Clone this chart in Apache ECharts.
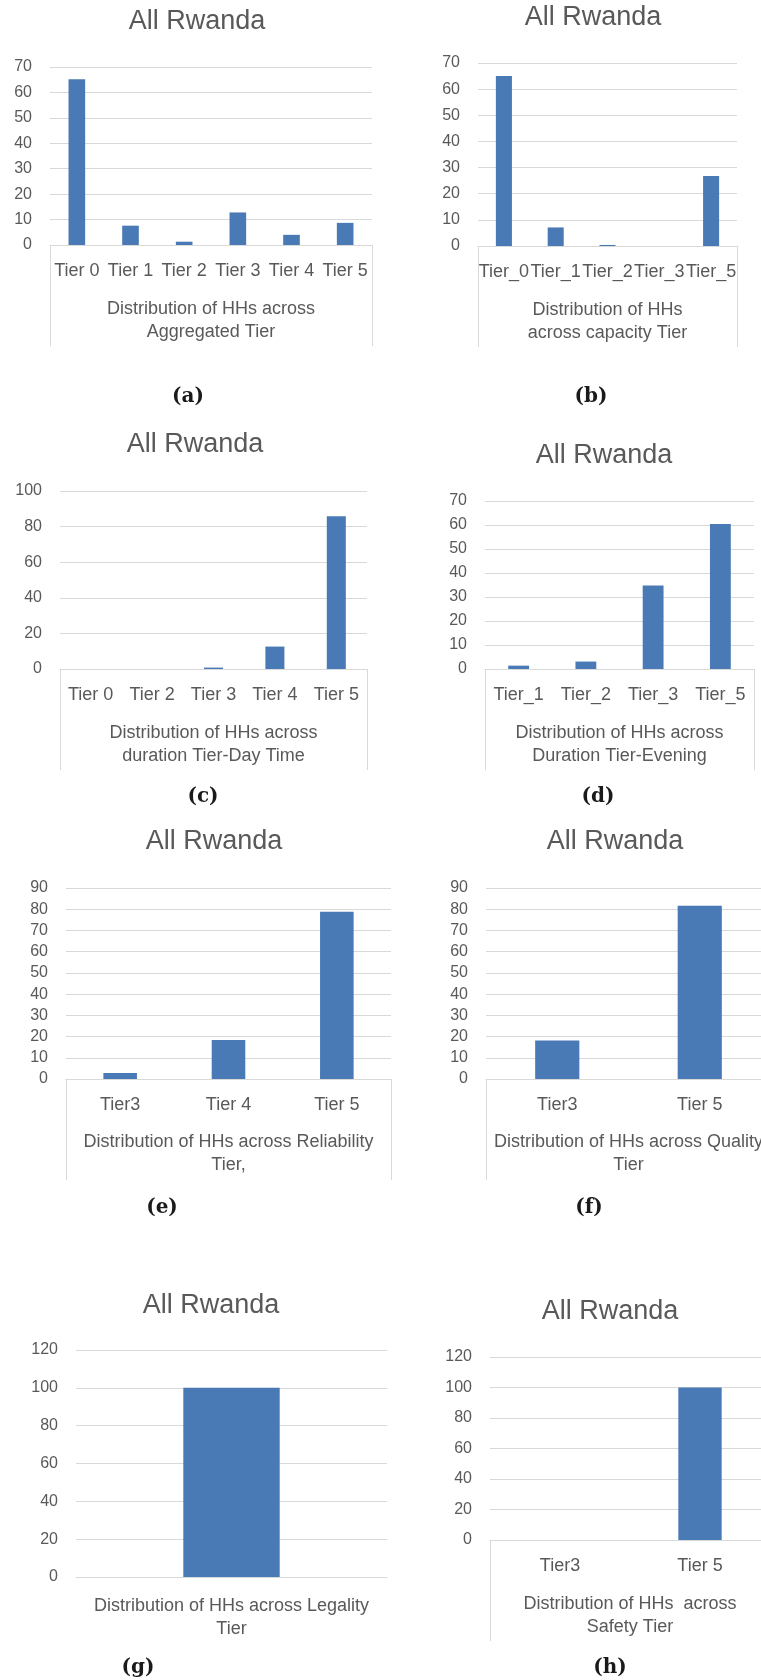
<!DOCTYPE html>
<html>
<head>
<meta charset="utf-8">
<script src="https://cdn.jsdelivr.net/npm/echarts@6/dist/echarts.min.js"></script>
<style>
    html, body { margin: 0; padding: 0; background: #fff; }
    #chart { width: 761px; height: 1680px; }
</style>
</head>
<body>
<div id="chart"></div>
<script>
// Values (% of households per tier)
const aggregatedTiers = ['Tier 0', 'Tier 1', 'Tier 2', 'Tier 3', 'Tier 4', 'Tier 5'];
const aggregatedShare = [65.2, 7.6, 1.3, 12.8, 4.0, 8.7];

const capacityTiers = ['Tier_0', 'Tier_1', 'Tier_2', 'Tier_3', 'Tier_5'];
const capacityShare = [65.0, 7.1, 0.4, 0, 26.8];

const dayTimeTiers = ['Tier 0', 'Tier 2', 'Tier 3', 'Tier 4', 'Tier 5'];
const dayTimeShare = [0, 0, 0.8, 12.6, 85.8];

const eveningTiers = ['Tier_1', 'Tier_2', 'Tier_3', 'Tier_5'];
const eveningShare = [1.4, 3.1, 34.8, 60.4];

const reliabilityTiers = ['Tier3', 'Tier 4', 'Tier 5'];
const reliabilityShare = [2.8, 18.4, 78.8];

const qualityTiers = ['Tier3', 'Tier 5'];
const qualityShare = [18.2, 81.6];

const legalityTiers = [''];
const legalityShare = [100];

const safetyTiers = ['Tier3', 'Tier 5'];
const safetyShare = [0, 100];

const yMax = [70, 70, 100, 70, 90, 90, 120, 120];
const yStep = [10, 10, 20, 10, 10, 10, 20, 20];

const axisTitles = [
    'Distribution of HHs across\nAggregated Tier',
    'Distribution of HHs\nacross capacity Tier',
    'Distribution of HHs across\nduration Tier-Day Time',
    'Distribution of HHs across\nDuration Tier-Evening',
    'Distribution of HHs across Reliability\nTier,',
    'Distribution of HHs across Quality\nTier',
    'Distribution of HHs across Legality\nTier',
    'Distribution of HHs  across\nSafety Tier'
];
const captions = ['(a)', '(b)', '(c)', '(d)', '(e)', '(f)', '(g)', '(h)'];

const panelCats = [aggregatedTiers, capacityTiers, dayTimeTiers, eveningTiers,
    reliabilityTiers, qualityTiers, legalityTiers, safetyTiers];
const panelVals = [aggregatedShare, capacityShare, dayTimeShare, eveningShare,
    reliabilityShare, qualityShare, legalityShare, safetyShare];

// plot area of each panel: x0, x1, y of max gridline, y of zero line
const layout = [
    { x0: 50, x1: 372, y0: 67, y1: 245, tx: 197, ty: 22, cx: 188, cy: 397, box: true, gap: 53 },
    { x0: 478, x1: 737, y0: 63, y1: 246, tx: 593, ty: 18, cx: 591, cy: 397, box: true, gap: 53 },
    { x0: 60, x1: 367, y0: 491, y1: 669, tx: 195, ty: 445, cx: 203, cy: 797, box: true, gap: 53 },
    { x0: 485, x1: 754, y0: 501, y1: 669, tx: 604, ty: 456, cx: 598, cy: 797, box: true, gap: 53 },
    { x0: 66, x1: 391, y0: 888, y1: 1079, tx: 214, ty: 842, cx: 162, cy: 1208, box: true, gap: 52 },
    { x0: 486, x1: 771, y0: 888, y1: 1079, tx: 615, ty: 842, cx: 589, cy: 1208, box: true, gap: 52 },
    { x0: 76, x1: 387, y0: 1350, y1: 1577, tx: 211, ty: 1306, cx: 138, cy: 1668, box: false, gap: 14 },
    { x0: 490, x1: 770, y0: 1357, y1: 1540, tx: 610, ty: 1312, cx: 610, cy: 1668, box: true, gap: 53 }
];

const FONT = '"Liberation Sans", Arial, sans-serif';
const TEXT = '#595959';
const GRID = '#d9d9d9';
const BAR = '#4a7ab5';

const grids = [], xAxes = [], yAxes = [], series = [], graphics = [];

layout.forEach((p, i) => {
    grids.push({
        left: p.x0, top: p.y0, width: p.x1 - p.x0, height: p.y1 - p.y0,
        containLabel: false, outerBoundsMode: 'none'
    });
    xAxes.push({
        type: 'category',
        gridIndex: i,
        data: panelCats[i],
        axisLine: { lineStyle: { color: GRID, width: 1 } },
        axisTick: { show: false },
        axisLabel: {
            interval: 0, margin: 17, fontSize: 18, lineHeight: 18,
            color: TEXT, fontFamily: FONT, hideOverlap: false
        },
        name: axisTitles[i],
        nameLocation: 'middle',
        nameGap: p.gap,
        nameTextStyle: { fontSize: 18, lineHeight: 23, color: TEXT, fontFamily: FONT, align: 'center' }
    });
    yAxes.push({
        type: 'value',
        gridIndex: i,
        min: 0, max: yMax[i], interval: yStep[i],
        axisLine: { show: false },
        axisTick: { show: false },
        axisLabel: { margin: 18, fontSize: 16, color: TEXT, fontFamily: FONT },
        splitLine: { lineStyle: { color: GRID, width: 1 } }
    });
    series.push({
        type: 'bar',
        xAxisIndex: i,
        yAxisIndex: i,
        data: panelVals[i],
        barCategoryGap: '69%',
        itemStyle: { color: BAR },
        silent: true
    });

    graphics.push({
        type: 'text', x: p.tx, y: p.ty, silent: true,
        style: { text: 'All Rwanda', fill: TEXT, font: '27px ' + FONT, textAlign: 'center', textVerticalAlign: 'middle' }
    });
    graphics.push({
        type: 'text', x: p.cx, y: p.cy, silent: true,
        style: { text: captions[i], fill: '#1a1a1a', font: 'bold 20px "DejaVu Serif", serif', textAlign: 'center', textVerticalAlign: 'middle' }
    });
    // Excel draws the category axis as an open box under the plot
    if (p.box) {
        [p.x0, p.x1].forEach(x => {
            graphics.push({
                type: 'line', silent: true,
                shape: { x1: x + 0.5, y1: p.y1, x2: x + 0.5, y2: p.y1 + 101 },
                style: { stroke: GRID, lineWidth: 1 }
            });
        });
    }
});

const chart = echarts.init(document.getElementById('chart'), null, { renderer: 'canvas' });
chart.setOption({
    animation: false,
    backgroundColor: '#fff',
    grid: grids,
    xAxis: xAxes,
    yAxis: yAxes,
    series: series,
    graphic: graphics
});
</script>
</body>
</html>
